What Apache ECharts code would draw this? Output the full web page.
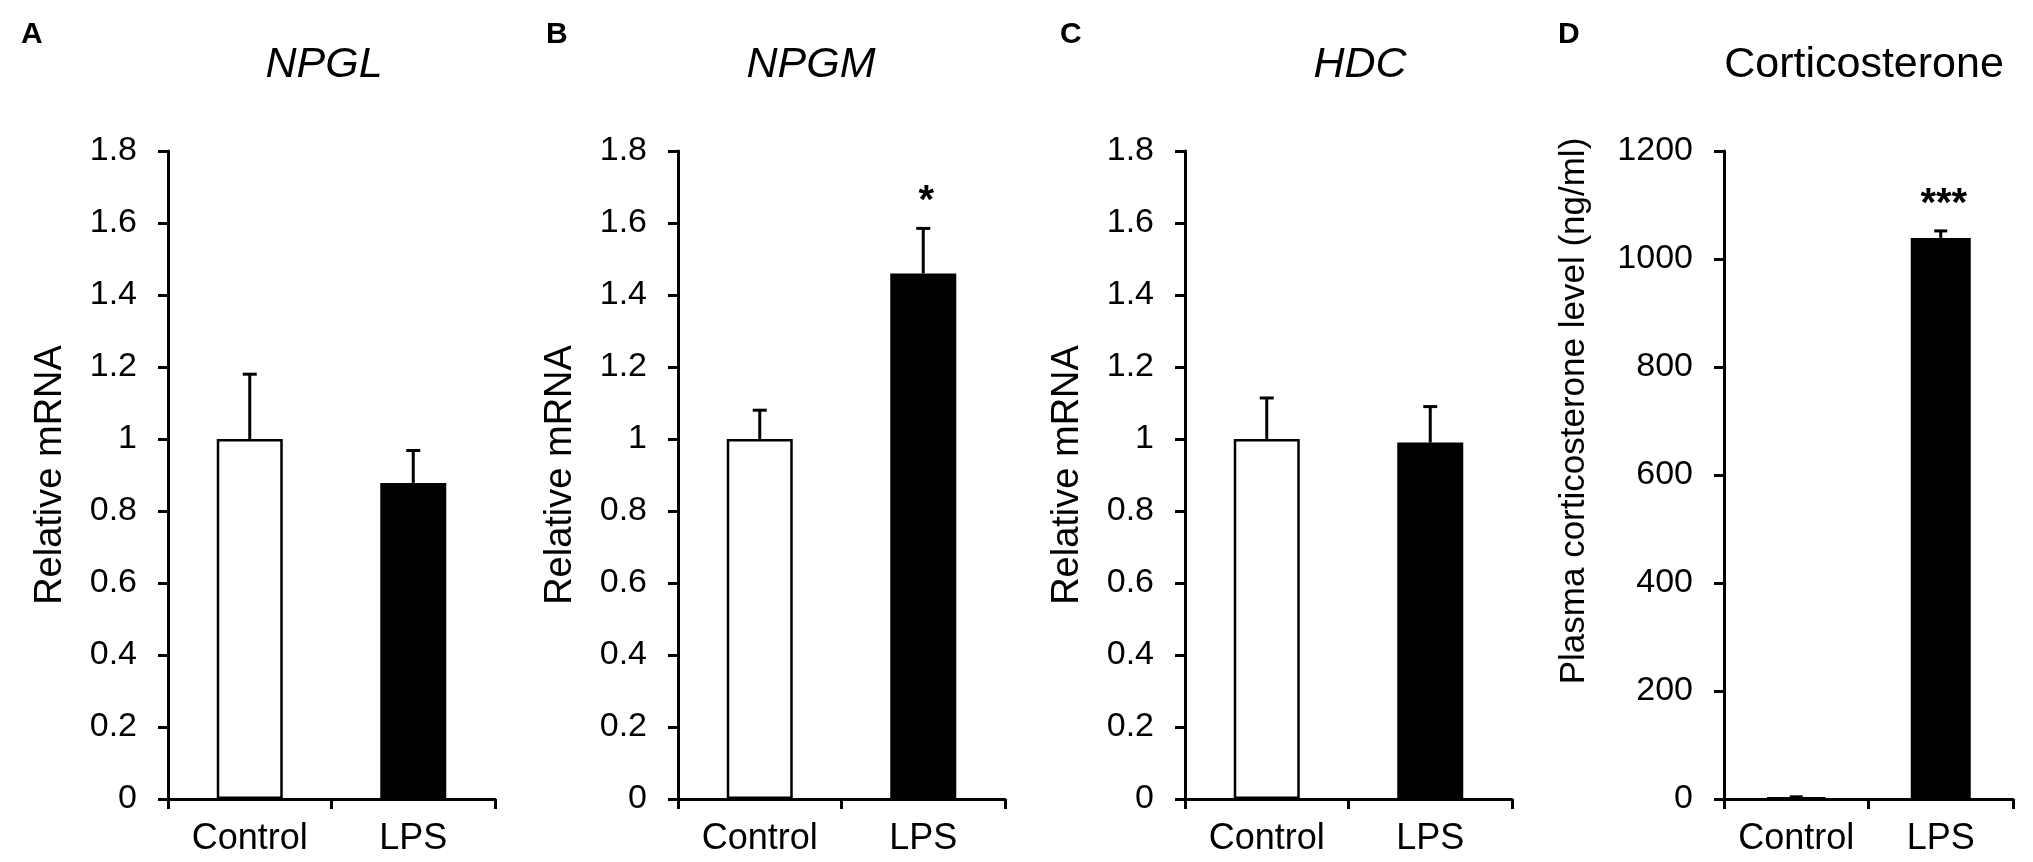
<!DOCTYPE html>
<html>
<head>
<meta charset="utf-8">
<title>LPS panels</title>
<script src="https://cdn.jsdelivr.net/npm/echarts@6/dist/echarts.min.js"></script>
<style>
  html, body { margin: 0; padding: 0; background: #fff; }
  #chart { width: 2033px; height: 862px; }
</style>
</head>
<body>
<div id="chart"></div>
<script>
// data
var groups = ['Control', 'LPS'];
var titles = ['NPGL', 'NPGM', 'HDC', 'Corticosterone'];
var letters = ['A', 'B', 'C', 'D'];
var axisNames = ['Relative mRNA', 'Relative mRNA', 'Relative mRNA', 'Plasma corticosterone level (ng/ml)'];
var axisMax = [1.8, 1.8, 1.8, 1200];
var axisStep = [0.2, 0.2, 0.2, 200];

var meanNPGL = [1.0, 0.878];
var errNPGL = [0.18, 0.09];
var sigNPGL = ['', ''];

var meanNPGM = [1.0, 1.46];
var errNPGM = [0.08, 0.125];
var sigNPGM = ['', '*'];

var meanHDC = [1.0, 0.99];
var errHDC = [0.114, 0.10];
var sigHDC = ['', ''];

var meanCort = [3, 1039];
var errCort = [1, 13];
var sigCort = ['', '***'];

var means = [meanNPGL, meanNPGM, meanHDC, meanCort];
var errs = [errNPGL, errNPGM, errHDC, errCort];
var sigs = [sigNPGL, sigNPGM, sigHDC, sigCort];

// layout
var FONT = '"Liberation Sans", Arial, sans-serif';
var gridLeft = [168, 678, 1185, 1724];
var gridWidth = [327, 327, 327, 289];
var barW = [66, 66, 66, 60];
var capW = [14, 14, 14, 13];
var titleX = [319, 806, 1355, 1859];
var letterX = [16, 541, 1055, 1553];
var nameGap = [98, 98, 98, 132];
var nameFont = [38, 38, 38, 35];
var namePad = [[0, 0, 0, 0], [0, 0, 0, 0], [0, 0, 0, 0], [0, 0, 0, 128]];

var chart = echarts.init(document.getElementById('chart'));

var grid = [], xAxis = [], yAxis = [], series = [], title = [];

for (var i = 0; i < 4; i++) {
    grid.push({ left: gridLeft[i], width: gridWidth[i], top: 151, height: 648 });

    title.push({
        text: titles[i],
        left: titleX[i],
        top: 39,
        textAlign: 'center',
        textStyle: {
            fontFamily: FONT,
            fontSize: 43,
            fontWeight: 'normal',
            fontStyle: i < 3 ? 'italic' : 'normal',
            color: '#000'
        }
    });
    title.push({
        text: letters[i],
        left: letterX[i],
        top: 15,
        textStyle: { fontFamily: FONT, fontSize: 30, fontWeight: 'bold', color: '#000' }
    });

    xAxis.push({
        type: 'category',
        gridIndex: i,
        data: groups,
        axisLine: { lineStyle: { color: '#000', width: 3 } },
        axisTick: { show: true, length: 10, lineStyle: { color: '#000', width: 3 } },
        axisLabel: { color: '#000', fontFamily: FONT, fontSize: 36, margin: 22, interval: 0 },
        splitLine: { show: false }
    });

    yAxis.push({
        type: 'value',
        gridIndex: i,
        min: 0,
        max: axisMax[i],
        interval: axisStep[i],
        name: axisNames[i],
        nameLocation: 'middle',
        nameGap: nameGap[i],
        nameTextStyle: { color: '#000', fontFamily: FONT, fontSize: nameFont[i], padding: namePad[i] },
        axisLine: { show: true, lineStyle: { color: '#000', width: 3 } },
        axisTick: { show: true, length: 10, lineStyle: { color: '#000', width: 3 } },
        axisLabel: {
            color: '#000', fontFamily: FONT, fontSize: 34, margin: 31,
            formatter: function (v) { return String(Math.round(v * 10) / 10); }
        },
        splitLine: { show: false }
    });

    series.push({
        type: 'bar',
        xAxisIndex: i,
        yAxisIndex: i,
        barWidth: barW[i],
        data: means[i].map(function (v, j) {
            return {
                value: v,
                itemStyle: j === 0
                    ? { color: '#fff', borderColor: '#000', borderWidth: 2.5 }
                    : { color: '#000', borderColor: '#000', borderWidth: 0 }
            };
        }),
        silent: true
    });

    series.push({
        type: 'custom',
        xAxisIndex: i,
        yAxisIndex: i,
        z: 5,
        silent: true,
        data: means[i].map(function (v, j) { return [j, v, errs[i][j]]; }),
        renderItem: (function (k) {
            return function (params, api) {
                var idx = api.value(0);
                var m = api.value(1);
                var e = api.value(2);
                var sig = sigs[k][idx];
                var p0 = api.coord([idx, m]);
                var p1 = api.coord([idx, m + e]);
                var half = capW[k] / 2;
                var children = [
                    { type: 'line', shape: { x1: p0[0], y1: p0[1], x2: p1[0], y2: p1[1] },
                      style: { stroke: '#000', lineWidth: 3 } },
                    { type: 'line', shape: { x1: p1[0] - half, y1: p1[1], x2: p1[0] + half, y2: p1[1] },
                      style: { stroke: '#000', lineWidth: 3 } }
                ];
                if (sig) {
                    children.push({
                        type: 'text',
                        style: {
                            text: sig, x: p1[0] + 3, y: p1[1] - 6,
                            align: 'center', verticalAlign: 'bottom',
                            font: 'bold 40px ' + FONT, fill: '#000'
                        }
                    });
                }
                return { type: 'group', children: children };
            };
        })(i)
    });
}

chart.setOption({
    animation: false,
    backgroundColor: '#fff',
    title: title,
    grid: grid,
    xAxis: xAxis,
    yAxis: yAxis,
    series: series
});
</script>
</body>
</html>
